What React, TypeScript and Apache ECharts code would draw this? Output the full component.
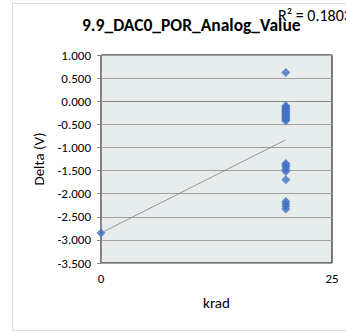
import React, { useEffect, useRef } from "react";
import * as echarts from "echarts";

const titleText = "9.9_DAC0_POR_Analog_Value";
const r2Label = "R² = 0.1803";
const xAxisName = "krad";
const yAxisName = "Delta (V)";

const xValues: number[] = [
  0,
  20, 20, 20, 20, 20, 20, 20, 20, 20, 20, 20, 20, 20, 20, 20,
  20, 20, 20, 20, 20, 20,
  20, 20, 20, 20,
];
const yValues: number[] = [
  -2.85,
  0.62, -0.1, -0.12, -0.15, -0.17, -0.2, -0.22, -0.25, -0.27, -0.3, -0.32, -0.35, -0.37, -0.4, -0.42,
  -1.35, -1.38, -1.42, -1.47, -1.52, -1.7,
  -2.17, -2.22, -2.27, -2.33,
];

function regression(xs: number[], ys: number[]) {
  const n = xs.length;
  const mx = xs.reduce((a, b) => a + b, 0) / n;
  const my = ys.reduce((a, b) => a + b, 0) / n;
  let sxy = 0;
  let sxx = 0;
  for (let i = 0; i < n; i++) {
    sxy += (xs[i] - mx) * (ys[i] - my);
    sxx += (xs[i] - mx) * (xs[i] - mx);
  }
  const slope = sxy / sxx;
  const intercept = my - slope * mx;
  return { slope, intercept };
}

export default function App() {
  const ref = useRef<HTMLDivElement>(null);
  useEffect(() => {
    if (!ref.current) return;
    const chart = echarts.init(ref.current, undefined, { renderer: "svg" });
    const { slope, intercept } = regression(xValues, yValues);
    const xMin = Math.min(...xValues);
    const xMax = Math.max(...xValues);
    const trend = [
      [xMin, intercept + slope * xMin],
      [xMax, intercept + slope * xMax],
    ];
    const font = "Carlito, Calibri, 'Liberation Sans', sans-serif";
    chart.setOption({
      animation: false,
      backgroundColor: "#ffffff",
      graphic: [
        {
          type: "rect",
          shape: { x: 12.5, y: 3.5, width: 360, height: 327 },
          style: { fill: "none", stroke: "#D9D9D9", lineWidth: 1 },
          z: 0,
        },
        {
          type: "text",
          left: 82,
          top: 16,
          style: {
            text: titleText,
            font: `bold 17.5px ${font}`,
            fill: "#000000",
          },
          z: 10,
        },
        {
          type: "text",
          left: 278,
          top: 7,
          style: {
            text: r2Label,
            font: `16px ${font}`,
            fill: "#000000",
          },
          z: 11,
        },
      ],
      grid: {
        left: 101,
        top: 55,
        right: 14,
        bottom: 70,
        show: true,
        backgroundColor: "#E7ECEC",
        borderColor: "#000000",
        borderWidth: 1,
      },
      xAxis: {
        type: "value",
        min: 0,
        max: 25,
        interval: 25,
        name: xAxisName,
        nameLocation: "middle",
        nameGap: 32,
        nameTextStyle: { fontFamily: font, fontSize: 15, color: "#000" },
        axisLine: { show: true, lineStyle: { color: "#868686", width: 1 } },
        axisTick: { show: true, length: 4, lineStyle: { color: "#868686" } },
        axisLabel: { fontFamily: font, fontSize: 13, color: "#000", margin: 9 },
        splitLine: { show: false },
      },
      yAxis: {
        type: "value",
        min: -3.5,
        max: 1,
        interval: 0.5,
        name: yAxisName,
        nameLocation: "middle",
        nameGap: 50,
        nameTextStyle: { fontFamily: font, fontSize: 15, color: "#000" },
        axisLine: { show: true, lineStyle: { color: "#868686", width: 1 } },
        axisTick: { show: true, length: 4, lineStyle: { color: "#868686" } },
        axisLabel: {
          fontFamily: font,
          fontSize: 13,
          color: "#000",
          margin: 10,
          formatter: (v: number) => v.toFixed(3),
        },
        splitLine: { show: true, lineStyle: { color: "#A0A0A0", width: 1 } },
      },
      series: [
        {
          type: "line",
          data: trend,
          symbol: "none",
          lineStyle: { color: "#808080", width: 0.8 },
          z: 2,
        },
        {
          type: "scatter",
          data: xValues.map((x, i) => [x, yValues[i]]),
          symbol: "diamond",
          symbolSize: 9,
          itemStyle: { color: "#4472C4" },
          z: 3,
        },
      ],
    });
    return () => chart.dispose();
  }, []);
  return (
    <div
      ref={ref}
      style={{ position: "fixed", left: 0, top: 0, width: 346, height: 333 }}
    />
  );
}
